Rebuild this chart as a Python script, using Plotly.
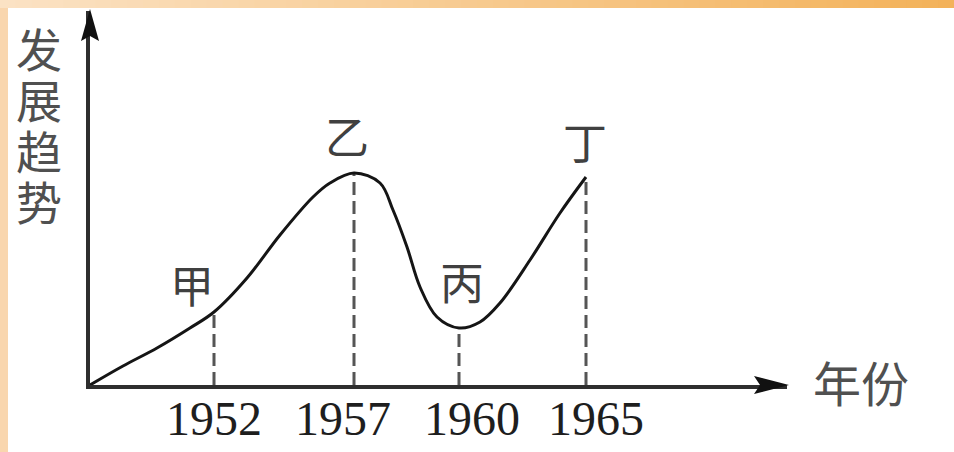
import plotly.graph_objects as go

# schematic chart: x = position along the time axis, y = development trend
years = ["1952", "1957", "1960", "1965"]
year_pos = [12.4, 26.4, 36.9, 49.6]
key_level = [7.3, 21.2, 5.7, 20.8]
point_names = ["甲", "乙", "丙", "丁"]

curve_x = [0, 3.3, 6.7, 10.0, 12.4, 15.7, 19.0, 22.3, 24.0, 26.4, 29.0, 30.3, 31.7, 33.0,
           34.7, 36.9, 39.0, 41.0, 44.0, 47.0, 49.6]
curve_y = [0, 1.9, 3.7, 5.7, 7.3, 10.7, 15.0, 18.8, 20.2, 21.2, 20.2, 17.5, 13.8, 9.8,
           6.8, 5.7, 6.3, 8.2, 12.5, 17.2, 20.8]

y_title = ["发", "展", "趋", "势"]
x_title = "年份"

W, H = 954, 452
X0, X1 = 90, 787      # pixel columns of origin and arrow tip
Y0, Y1 = 385, 11      # pixel rows of origin and arrow tip

CJK = "Noto Sans CJK SC, Noto Sans CJK JP, sans-serif"
SERIF = "Liberation Serif, DejaVu Serif, serif"

fig = go.Figure()

# dashed drop lines from the marked points to the time axis
dx, dy = [], []
for xp, lv in zip(year_pos, key_level):
    dx += [xp, xp, None]
    dy += [0, lv, None]
fig.add_trace(go.Scatter(
    x=dx, y=dy, mode="lines",
    line=dict(color="#555555", width=3, dash="13px,6px"),
    hoverinfo="skip",
))

fig.add_trace(go.Scatter(
    x=curve_x, y=curve_y, mode="lines",
    line=dict(color="#151515", width=3, shape="spline", smoothing=1),
    hoverinfo="skip",
))

shapes = []
# orange frame: left strip + top gradient bar
shapes.append(dict(type="rect", xref="paper", yref="paper", x0=0, x1=8 / W, y0=0, y1=1,
                   fillcolor="#F9D6AE", line=dict(width=0), layer="below"))
c_left, c_right = (251, 226, 196), (243, 178, 90)
n = 60
for i in range(n):
    t = i / (n - 1)
    col = tuple(round(a + (b - a) * t) for a, b in zip(c_left, c_right))
    shapes.append(dict(type="rect", xref="paper", yref="paper",
                       x0=i / n, x1=(i + 1) / n + 0.002, y0=1 - 8 / H, y1=1,
                       fillcolor="rgb(%d,%d,%d)" % col, line=dict(width=0), layer="below"))

# arrow heads at the ends of both axes
shapes.append(dict(type="path", xref="paper", yref="paper",
                   xsizemode="pixel", ysizemode="pixel",
                   xanchor=X1 / W, yanchor=(H - Y0) / H,
                   path="M2,0 L-33,-9 L-27,0 L-33,9 Z",
                   fillcolor="#111111", line=dict(width=0)))
shapes.append(dict(type="path", xref="paper", yref="paper",
                   xsizemode="pixel", ysizemode="pixel",
                   xanchor=X0 / W, yanchor=(H - Y1) / H,
                   path="M0,2 L-9,-30 L0,-25 L9,-30 Z",
                   fillcolor="#111111", line=dict(width=0)))

annotations = []
label_shift = [(-22, 28), (-7, 38), (3, 47), (-1, 36)]
for name, xp, lv, (sx, sy) in zip(point_names, year_pos, key_level, label_shift):
    annotations.append(dict(
        x=xp, y=lv, xref="x", yref="y", text=name, showarrow=False,
        xanchor="center", yanchor="middle",
        xshift=sx, yshift=sy, font=dict(family=CJK, size=44, color="#404040"),
    ))

# year labels under the time axis (slightly off their drop lines, as in the source)
year_shift = [0, -11, 13, 10]
for yr, xp, sx in zip(years, year_pos, year_shift):
    annotations.append(dict(
        x=xp, y=0, xref="x", yref="y", text=yr, showarrow=False,
        xanchor="center", yanchor="middle", xshift=sx, yshift=-33,
        font=dict(family=SERIF, size=48, color="#1e1e1e"),
    ))

for i, ch in enumerate(y_title):
    annotations.append(dict(
        x=39 / W, y=(H - (47 + 51 * i)) / H, xref="paper", yref="paper",
        xanchor="center", yanchor="middle",
        text=ch, showarrow=False, font=dict(family=CJK, size=46, color="#505050"),
    ))

annotations.append(dict(
    x=861 / W, y=(H - 381) / H, xref="paper", yref="paper",
    xanchor="center", yanchor="middle",
    text=x_title, showarrow=False, font=dict(family=CJK, size=48, color="#505050"),
))

fig.update_layout(
    width=W, height=H,
    margin=dict(l=0, r=0, t=0, b=0),
    paper_bgcolor="#FFFFFF",
    plot_bgcolor="rgba(0,0,0,0)",
    showlegend=False,
    shapes=shapes,
    annotations=annotations,
    xaxis=dict(
        domain=[X0 / W, X1 / W],
        range=[0, (X1 - X0) / 10],
        showgrid=False, zeroline=False,
        showline=True, linecolor="#2e2e2e", linewidth=3.5,
        showticklabels=False, ticks="",
        fixedrange=True,
    ),
    yaxis=dict(
        domain=[(H - Y0) / H, (H - Y1) / H],
        range=[0, (Y0 - Y1) / 10],
        showgrid=False, zeroline=False,
        showline=True, linecolor="#2e2e2e", linewidth=3.5,
        showticklabels=False, ticks="",
        fixedrange=True,
    ),
)

fig.write_html(
    "out.html",
    config={"displayModeBar": False},
    post_script="document.body.style.margin='0';document.body.style.overflow='hidden';",
)
